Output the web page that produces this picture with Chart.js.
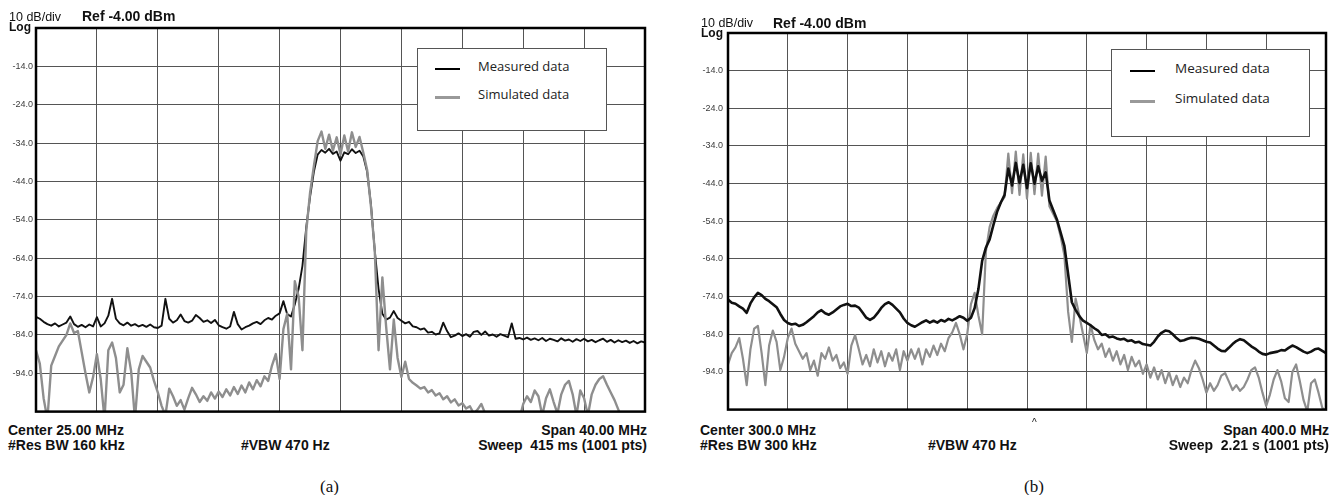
<!DOCTYPE html>
<html>
<head>
<meta charset="utf-8">
<script src="https://cdn.jsdelivr.net/npm/chart.js"></script>
<style>
  body { margin: 0; background: #fff; width: 1335px; height: 495px; overflow: hidden; position: relative;
         font-family: 'Liberation Sans', Arial, sans-serif; }
  canvas { position: absolute; top: 0; }
  .t { position: absolute; white-space: pre; line-height: 1; color: #111; }
  .b { font-weight: bold; font-size: 14px; }
  .cap { font-family: 'Liberation Serif', 'Times New Roman', serif; font-size: 17px; }
  .legend { position: absolute; border: 1px solid #555; background: #fff;
            font-family: 'Open Sans', sans-serif; font-size: 13px; color: #222; }
  .legend div { position: absolute; white-space: pre; line-height: 1; }
  .legend span { position: absolute; height: 0; }
</style>
</head>
<body>
<canvas id="chartA" width="660" height="420" style="left:0"></canvas>
<canvas id="chartB" width="645" height="420" style="left:690px"></canvas>

<div class="t" style="left:9px;top:11px;font-size:12.5px">10 dB/div</div>
<div class="t" style="left:9px;top:21px;font-size:12px;font-weight:bold">Log</div>
<div class="t b" style="left:82px;top:9px">Ref -4.00 dBm</div>
<div class="t b" style="left:8px;top:423px">Center 25.00 MHz</div>
<div class="t b" style="left:8px;top:438px">#Res BW 160 kHz</div>
<div class="t b" style="left:241px;top:438px">#VBW 470 Hz</div>
<div class="t b" style="right:688px;top:423px">Span 40.00 MHz</div>
<div class="t b" style="right:688px;top:438px">Sweep  415 ms (1001 pts)</div>
<div class="t cap" style="left:320px;top:478px">(a)</div>

<div class="t" style="left:701px;top:17px;font-size:12.5px">10 dB/div</div>
<div class="t" style="left:701px;top:27px;font-size:12px;font-weight:bold">Log</div>
<div class="t b" style="left:773px;top:16px">Ref -4.00 dBm</div>
<div class="t b" style="left:700px;top:423px">Center 300.0 MHz</div>
<div class="t b" style="left:700px;top:438px">#Res BW 300 kHz</div>
<div class="t b" style="left:928px;top:438px">#VBW 470 Hz</div>
<div class="t b" style="right:6px;top:423px">Span 400.0 MHz</div>
<div class="t b" style="right:6px;top:438px">Sweep  2.21 s (1001 pts)</div>
<div class="t" style="left:1032px;top:418px;font-size:10px">^</div>
<div class="t cap" style="left:1024px;top:478px">(b)</div>

<div id="legendA" class="legend" style="left:417px;top:48px;width:188px;height:81px"></div>
<div id="legendB" class="legend" style="left:1111px;top:49px;width:197px;height:86px"></div>

<script>
// legend / series names
const seriesLabels = ['Measured data', 'Simulated data'];

// y axis: dBm, 10 dB/div, ref -4 dBm
const refLevel = -4;
const bottomLevel = -104;
const dbPerDiv = 10;

// (a) sweep: 5..45 MHz, 0.25 MHz per trace point
const startA = 5, stopA = 45, stepA = 0.25, divA = 4;

const measuredA = [
  -79.3, -79.8, -80.6, -81.2, -81.6, -81.0, -81.8, -81.3,
  -80.8, -79.2, -81.2, -81.9, -81.4, -82.0, -81.3, -81.8,
  -79.4, -81.8, -81.0, -79.0, -74.6, -79.8, -81.0, -81.5,
  -80.8, -81.6, -81.2, -81.8, -81.4, -81.9, -81.3, -82.0,
  -82.2, -81.6, -74.6, -79.8, -80.8, -80.2, -78.7, -80.4,
  -80.8, -80.3, -78.8, -79.6, -80.6, -80.2, -80.9, -80.1,
  -81.5, -82.0, -82.4, -81.8, -78.0, -81.2, -82.6, -82.0,
  -81.6, -81.0, -80.6, -81.2, -80.2, -79.6, -80.0, -79.0,
  -78.4, -75.2, -78.6, -79.2, -76.0, -72.0, -66.0, -56.0,
  -48.0, -41.5, -37.0, -35.8, -36.5, -35.5, -36.8, -36.2,
  -38.6, -36.4, -36.9, -35.6, -36.6, -36.0, -37.5, -41.5,
  -50.0, -62.0, -72.0, -78.5, -80.0, -79.5, -77.8, -79.6,
  -80.3, -81.0, -80.6, -81.8, -82.0, -82.6, -82.3, -83.4,
  -83.2, -83.9, -83.6, -80.8, -83.0, -84.6, -84.2, -83.6,
  -84.3, -83.8, -84.5, -83.2, -83.0, -84.0, -83.1, -84.2,
  -83.9, -84.5, -83.8, -84.2, -84.6, -81.0, -85.0, -84.8,
  -85.2, -84.7, -85.3, -84.9, -85.4, -84.8, -85.6, -85.0,
  -85.3, -85.7, -84.9, -85.5, -85.2, -85.8, -85.1, -85.6,
  -85.0, -85.7, -85.3, -85.9, -85.4, -85.0, -85.8, -85.3,
  -86.0, -85.4, -85.9, -85.5, -86.1, -85.6, -86.2, -85.7,
  -86.0
];

const simulatedA = [
  -88.0, -91.5, -100.5, -106, -92.0, -89.5, -87.0, -85.5,
  -84.0, -81.0, -83.5, -83.0, -88.5, -94.0, -99.0, -95.0,
  -89.0, -95.5, -106, -88.0, -86.0, -90.0, -99.0, -97.0,
  -87.5, -93.5, -106, -93.0, -89.5, -91.0, -92.5, -96.0,
  -99.0, -102.5, -105, -98.0, -100.0, -102.5, -101.0, -103.5,
  -100.5, -97.8, -99.5, -101.5, -100.0, -101.2, -99.0, -100.6,
  -98.8, -100.2, -98.2, -99.8, -97.6, -99.4, -97.2, -99.0,
  -96.4, -98.2, -95.8, -97.4, -94.8, -96.0, -92.0, -89.0,
  -95.5, -82.5, -78.5, -93.0, -70.0, -74.0, -88.0, -57.0,
  -47.0, -40.0, -33.5, -31.0, -35.5, -31.8, -36.0, -32.5,
  -37.0, -32.0, -36.2, -31.2, -35.0, -32.4, -36.5, -41.0,
  -50.5, -62.0, -88.0, -69.0, -82.0, -93.0, -80.0, -90.0,
  -95.0, -91.0, -95.5, -96.5, -97.2, -98.0, -97.6, -99.0,
  -98.4, -99.8, -99.2, -100.8, -100.0, -101.6, -100.8, -102.4,
  -101.8, -103.2, -102.6, -104.5, -103.5, -102.0, -104.5, -106,
  -106, -106, -106, -106, -106, -106, -104.5, -106,
  -102.0, -100.0, -101.5, -98.5, -100.0, -105, -100.5, -98.2,
  -101.5, -104.5, -99.5, -97.0, -96.0, -99.5, -105, -98.5,
  -100.5, -105, -99.5, -97.0, -95.5, -94.8, -97.0, -99.0,
  -101.0, -103.5, -106, -106, -106, -106, -106, -106,
  -106
];

// (b) sweep: 100..500 MHz, 2.5 MHz per trace point
const startB = 100, stopB = 500, stepB = 2.5, divB = 40;

const measuredB = [
  -74.8, -75.6, -75.9, -76.6, -77.2, -78.3, -75.8, -74.2,
  -73.0, -73.6, -74.6, -75.2, -76.0, -76.8, -78.6, -80.2,
  -81.0, -81.4, -81.2, -81.8, -81.5, -80.8, -80.0, -79.2,
  -78.2, -77.6, -78.4, -78.8, -78.2, -77.4, -76.6, -76.2,
  -75.9, -76.5, -76.4, -76.9, -78.2, -79.6, -80.2, -79.6,
  -78.4, -77.0, -76.0, -75.5, -76.2, -77.2, -78.2, -79.8,
  -81.0, -81.6, -82.0, -81.4, -80.8, -80.3, -80.9, -80.4,
  -80.9, -80.2, -80.6, -79.9, -80.3, -79.8, -79.2, -79.6,
  -80.4, -79.6, -77.0, -72.0, -64.5, -61.0, -58.8, -55.0,
  -51.5, -49.0, -47.0, -40.0, -44.5, -38.5, -43.8, -39.0,
  -45.2, -38.6, -44.0, -39.4, -43.2, -41.0, -48.5, -51.0,
  -53.5, -57.0, -60.5, -68.0, -75.5, -77.5, -79.2, -80.4,
  -81.0, -81.6, -82.4, -83.0, -84.2, -84.0, -84.8, -84.6,
  -85.1, -85.4, -85.2, -85.8, -85.6, -86.2, -86.0, -86.6,
  -86.8, -87.0, -86.0, -84.6, -83.6, -83.0, -83.2, -84.0,
  -85.0, -85.8, -85.6, -85.2, -84.9, -85.0, -85.2, -85.6,
  -86.0, -86.2, -87.0, -87.8, -88.4, -88.5, -87.6, -86.6,
  -85.8, -85.3, -85.6, -86.4, -87.2, -87.8, -88.6, -89.2,
  -89.4, -89.0, -88.8, -88.6, -88.2, -88.3, -87.6, -87.0,
  -87.4, -88.0, -88.6, -89.0, -88.6, -88.0, -87.8, -88.4,
  -89.0
];

const simulatedB = [
  -92.0, -89.0, -87.5, -85.0, -90.5, -97.5, -88.0, -82.5,
  -81.8, -89.0, -97.5, -87.0, -83.0, -86.0, -93.5, -90.0,
  -85.0, -82.5, -86.5, -88.5, -90.5, -89.0, -93.5, -91.0,
  -95.0, -89.0, -90.5, -87.5, -91.0, -89.5, -93.0, -91.5,
  -94.5, -87.0, -84.2, -88.0, -92.0, -89.5, -92.5, -88.0,
  -91.5, -88.5, -92.5, -89.0, -91.0, -88.0, -93.5, -88.5,
  -91.0, -88.0, -90.5, -87.8, -92.0, -88.0, -90.0, -87.0,
  -89.5, -86.5, -88.5, -85.0, -83.5, -81.0, -84.0, -88.0,
  -84.0, -76.0, -73.0, -79.0, -84.0, -62.0, -55.5, -52.5,
  -50.5, -49.0, -47.5, -36.0, -46.5, -35.5, -47.0, -36.2,
  -48.0, -35.8, -46.8, -36.0, -47.2, -36.8, -50.0, -52.0,
  -54.0, -58.0, -63.0, -78.0, -86.0, -74.5, -79.0, -84.0,
  -89.0, -81.5, -85.5, -88.0, -86.5, -90.0, -87.8, -91.0,
  -88.5, -92.0, -89.5, -93.5, -90.0, -92.5, -91.0, -94.5,
  -92.0, -95.5, -92.8, -96.0, -93.5, -97.0, -94.0, -97.5,
  -95.0, -98.0, -95.5, -97.0, -93.5, -91.0, -93.0, -96.0,
  -99.5, -97.0, -99.0, -97.5, -95.0, -94.3, -96.5, -98.8,
  -97.5, -99.0, -98.0, -96.0, -93.5, -92.8, -95.5, -99.5,
  -103.0, -100.0, -96.0, -93.5, -96.5, -101.0, -102.0, -94.0,
  -92.0, -96.5, -101.5, -104.5, -97.0, -96.0, -99.5, -103.5,
  -104.5
];

const traceColors = ['#111111', '#8e8e8e'];

// thick black frame round the plot area, like the analyzer screen
const framePlugin = {
    id: 'frame',
    afterDatasetsDraw(chart) {
        const { ctx, chartArea: a } = chart;
        ctx.save();
        ctx.strokeStyle = '#000';
        ctx.lineWidth = 2.5;
        ctx.strokeRect(a.left, a.top, a.right - a.left, a.bottom - a.top);
        ctx.restore();
    }
};

toPoints = (start, step, values) => values.map((v, i) => ({ x: start + i * step, y: v }));

displaySpectrum = (id, sweep, measured, simulated, box) => {
    const ctx = document.getElementById(id).getContext('2d');
    new Chart(ctx, {
        type: 'line',
        data: {
            datasets: [{
                label: seriesLabels[0],
                data: toPoints(sweep.start, sweep.step, measured),
                borderColor: traceColors[0],
                borderWidth: box.blackWidth,
                order: box.blackOrder
            }, {
                label: seriesLabels[1],
                data: toPoints(sweep.start, sweep.step, simulated),
                borderColor: traceColors[1],
                borderWidth: box.grayWidth,
                order: box.grayOrder
            }]
        },
        options: {
            responsive: false,
            animation: false,
            events: [],
            layout: { padding: box.padding },
            elements: {
                point: { radius: 0 },
                line: { tension: 0, borderJoinStyle: 'round' }
            },
            plugins: {
                legend: { display: false },
                tooltip: { enabled: false }
            },
            scales: {
                x: {
                    type: 'linear',
                    min: sweep.start,
                    max: sweep.stop,
                    ticks: { display: false, stepSize: sweep.div },
                    grid: { color: '#555', lineWidth: 1, drawTicks: false },
                    border: { display: false },
                    afterFit: s => { s.height = 0; }
                },
                y: {
                    min: bottomLevel,
                    max: refLevel,
                    ticks: {
                        stepSize: dbPerDiv,
                        padding: box.tickPad,
                        color: '#3a3a3a',
                        font: { family: 'Liberation Sans', size: 9 },
                        callback: v => (v === refLevel || v === bottomLevel) ? '' : v.toFixed(1)
                    },
                    grid: { color: '#555', lineWidth: 1, drawTicks: false },
                    border: { display: false },
                    afterFit: s => { s.width = box.axisWidth; }
                }
            }
        },
        plugins: [framePlugin]
    });
}

buildLegend = (id, lines) => {
    const el = document.getElementById(id);
    seriesLabels.forEach((name, i) => {
        const sw = document.createElement('span');
        sw.style.left = lines.x + 'px';
        sw.style.top = lines.y[i] + 'px';
        sw.style.width = '25px';
        sw.style.borderTop = (i === 0 ? 2.5 : 3) + 'px solid ' + (i === 0 ? '#000' : '#999');
        el.appendChild(sw);
        const txt = document.createElement('div');
        txt.textContent = name;
        txt.style.left = lines.tx + 'px';
        txt.style.top = (lines.y[i] - 8) + 'px';
        txt.style.fontSize = lines.size + 'px';
        el.appendChild(txt);
    });
}

displaySpectrum('chartA', { start: startA, stop: stopA, step: stepA, div: divA }, measuredA, simulatedA,
    { padding: { top: 28, right: 15, bottom: 2, left: 0 }, axisWidth: 36, tickPad: 3,
      blackWidth: 1.9, grayWidth: 2.4, blackOrder: 2, grayOrder: 1 });
displaySpectrum('chartB', { start: startB, stop: stopB, step: stepB, div: divB }, measuredB, simulatedB,
    { padding: { top: 33, right: 9, bottom: 1, left: 0 }, axisWidth: 38, tickPad: 5,
      blackWidth: 2.6, grayWidth: 2.2, blackOrder: 1, grayOrder: 2 });

buildLegend('legendA', { x: 17, tx: 60, y: [19, 47], size: 13 });
buildLegend('legendB', { x: 18, tx: 63, y: [20, 50], size: 13.5 });
</script>
</body>
</html>
